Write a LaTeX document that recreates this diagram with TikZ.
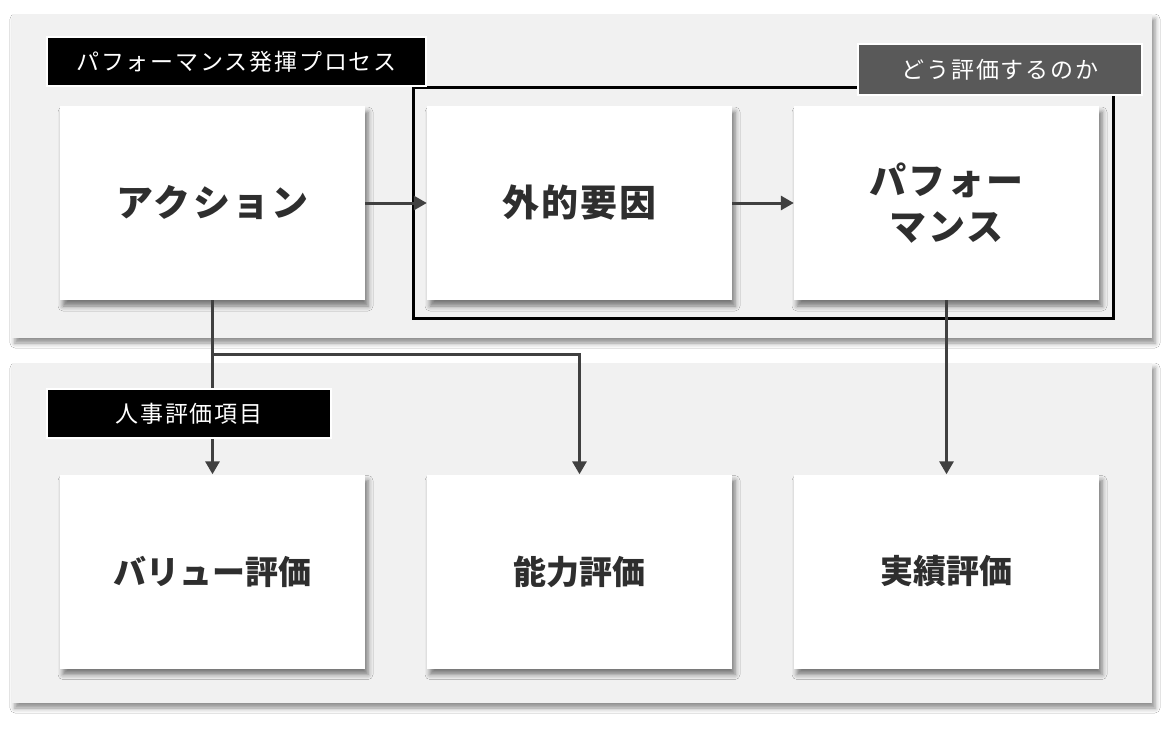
\documentclass[tikz,border=0pt]{standalone}
\usepackage{fontspec}
\setmainfont{Noto Sans CJK JP}
\usetikzlibrary{shadows.blur,arrows.meta}
\definecolor{panelbg}{HTML}{F1F1F1}
\definecolor{txt}{HTML}{2E2E2E}
\definecolor{arrowc}{HTML}{404040}
\definecolor{graylab}{HTML}{595959}
\tikzset{
  panel/.style={fill=panelbg, minimum width=1140pt, inner sep=0pt,
    blur shadow={shadow xshift=3pt, shadow yshift=-5pt, shadow blur radius=5pt, shadow opacity=45}},
  card/.style={fill=white, minimum width=305pt, minimum height=194pt, inner sep=0pt,
    align=center, text=txt, font=\fontsize{37}{46}\selectfont\bfseries\addfontfeature{LetterSpace=6},
    blur shadow={shadow xshift=3pt, shadow yshift=-6pt, shadow blur radius=5pt, shadow opacity=50}},
  lowcard/.style={card, font=\fontsize{33}{40}\selectfont\bfseries},
  tag/.style={fill=black, draw=white, line width=2.5pt, text=white, inner sep=0pt,
    minimum height=49pt, font=\fontsize{23}{26}\selectfont\addfontfeature{LetterSpace=8}},
  arr/.style={draw=arrowc, line width=3pt, -{Triangle[length=13pt,width=14pt]}},
  frame/.style={draw=black, line width=3pt}
}
\begin{document}
\begin{tikzpicture}[x=1pt,y=-1pt]
\useasboundingbox (0,0) rectangle (1175,729);
\fill[white] (0,0) rectangle (1175,729);
% panels
\node[panel, minimum height=324pt] (toppanel) at (582,176) {};
\node[panel, minimum height=340pt] (botpanel) at (582,533) {};
% frame
\node[frame, minimum width=700pt, minimum height=231pt, inner sep=0pt] (howframe) at (763,202.5) {};
% cards
\node[card] (action) at (212.5,203) {アクション};
\node[card] (ext) at (579.5,203) {外的要因};
\node[card] (perf) at (946.5,203) {パフォー\\マンス};
\node[lowcard] (value) at (212.5,571.5) {バリュー評価};
\node[lowcard] (ability) at (579.5,571.5) {能力評価};
\node[lowcard] (result) at (946.5,571.5) {実績評価};
% arrows
\draw[arr] (action.east) -- (ext.west);
\draw[arr] (ext.east) -- (perf.west);
\draw[arr] (action.south) -- (value.north);
\path (action.south) ++(0,54) coordinate (branch);
\draw[arr] (branch) -| (ability.north);
\draw[arr] (perf.south) -- (result.north);
% tags
\node[tag, minimum width=379pt] (proclab) at (236.5,61.5) {パフォーマンス発揮プロセス};
\node[tag, fill=graylab, minimum width=284pt, minimum height=51pt] (howlab) at (1000,69.5) {どう評価するのか};
\node[tag, minimum width=284pt] (hrlab) at (189,413.5) {人事評価項目};
\end{tikzpicture}
\end{document}
